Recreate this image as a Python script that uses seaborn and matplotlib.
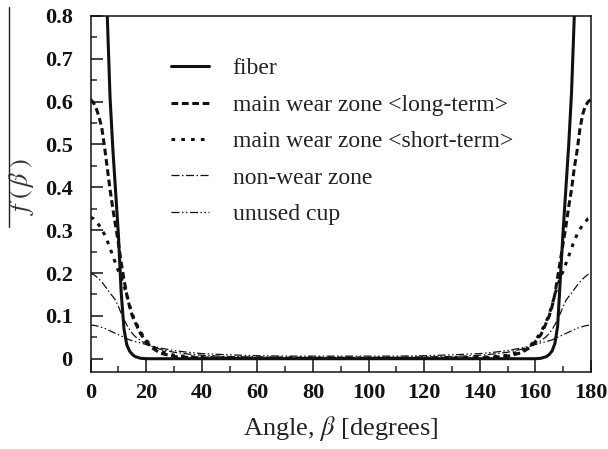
import matplotlib
matplotlib.use("Agg")
import matplotlib.pyplot as plt
from matplotlib.lines import Line2D
from matplotlib.ticker import MultipleLocator
import pandas as pd
import seaborn as sns

# Orientation angle grid (degrees)
angle = [0, 1, 2, 3, 4, 5, 6, 7, 8, 9, 10, 11, 12, 13, 14, 15, 16, 18, 20, 22, 25,
         30, 35, 40, 50, 60, 70, 80, 90, 100, 110, 120, 130, 140, 145, 150, 155,
         158, 160, 162, 164, 165, 166, 167, 168, 169, 170, 171, 172, 173, 174, 175,
         176, 177, 178, 179, 180]

fiber = [3.2, 2.6, 2.0, 1.6, 1.25, 0.98, 0.80, 0.61, 0.49, 0.39, 0.29, 0.155, 0.07,
         0.033, 0.018, 0.01, 0.005, 0.001, 0.0, 0.0, 0.0, 0.0, 0.0, 0.0, 0.0, 0.0,
         0.0, 0.0, 0.0, 0.0, 0.0, 0.0, 0.0, 0.0, 0.0, 0.0, 0.0, 0.0, 0.0, 0.001,
         0.005, 0.01, 0.018, 0.035, 0.075, 0.19, 0.30, 0.40, 0.50, 0.62, 0.80, 0.98,
         1.25, 1.6, 2.0, 2.6, 3.2]

long_term = [0.605, 0.598, 0.585, 0.565, 0.54, 0.495, 0.445, 0.395, 0.35, 0.31, 0.27,
             0.225, 0.185, 0.15, 0.122, 0.1, 0.085, 0.058, 0.04, 0.026, 0.013, 0.005,
             0.003, 0.002, 0.001, 0.001, 0.0008, 0.0006, 0.0005, 0.0006, 0.0008, 0.001,
             0.001, 0.002, 0.003, 0.006, 0.014, 0.026, 0.04, 0.056, 0.085, 0.1, 0.122,
             0.15, 0.19, 0.23, 0.27, 0.31, 0.355, 0.395, 0.445, 0.485, 0.535, 0.57,
             0.59, 0.6, 0.605]

short_term = [0.33, 0.327, 0.32, 0.312, 0.302, 0.29, 0.275, 0.258, 0.24, 0.222, 0.205,
              0.19, 0.17, 0.15, 0.125, 0.105, 0.088, 0.062, 0.043, 0.03, 0.018, 0.008,
              0.005, 0.003, 0.002, 0.0015, 0.0015, 0.0015, 0.0015, 0.0015, 0.0015,
              0.0015, 0.002, 0.003, 0.005, 0.008, 0.018, 0.03, 0.043, 0.062, 0.088,
              0.105, 0.125, 0.15, 0.17, 0.19, 0.205, 0.222, 0.24, 0.258, 0.275, 0.29,
              0.302, 0.312, 0.32, 0.327, 0.33]

non_wear = [0.198, 0.197, 0.192, 0.186, 0.179, 0.171, 0.162, 0.153, 0.145, 0.136, 0.122,
            0.106, 0.092, 0.079, 0.068, 0.059, 0.052, 0.042, 0.035, 0.029, 0.022, 0.015,
            0.011, 0.008, 0.005, 0.004, 0.003, 0.003, 0.003, 0.003, 0.003, 0.004, 0.005,
            0.008, 0.011, 0.015, 0.022, 0.029, 0.035, 0.042, 0.052, 0.059, 0.068, 0.079,
            0.092, 0.106, 0.122, 0.136, 0.145, 0.153, 0.162, 0.171, 0.179, 0.186, 0.192,
            0.197, 0.198]

unused_cup = [0.078, 0.078, 0.077, 0.075, 0.073, 0.071, 0.068, 0.065, 0.062, 0.059, 0.056,
              0.053, 0.05, 0.047, 0.044, 0.042, 0.04, 0.037, 0.033, 0.029, 0.025, 0.019,
              0.015, 0.012, 0.009, 0.007, 0.006, 0.006, 0.006, 0.006, 0.006, 0.007, 0.009,
              0.012, 0.015, 0.019, 0.025, 0.029, 0.033, 0.037, 0.04, 0.042, 0.044, 0.047,
              0.05, 0.053, 0.056, 0.059, 0.062, 0.065, 0.068, 0.071, 0.073, 0.075, 0.077,
              0.078, 0.078]

labels = ["fiber", "main wear zone <long-term>", "main wear zone <short-term>",
          "non-wear zone", "unused cup"]

sns.set_theme(style="ticks")
plt.rcParams["font.family"] = ["Liberation Serif", "DejaVu Serif"]
plt.rcParams["mathtext.fontset"] = "stix"

df = pd.DataFrame({"angle": angle, labels[0]: fiber, labels[1]: long_term,
                   labels[2]: short_term, labels[3]: non_wear, labels[4]: unused_cup})

styles = {
    labels[0]: dict(lw=2.2, linestyle="-"),
    labels[1]: dict(lw=2.2, linestyle=(0, (2.2, 1.2))),
    labels[2]: dict(lw=2.2, linestyle=(0, (1.2, 2.0))),
    labels[3]: dict(lw=0.9, linestyle=(0, (6.4, 2.0, 1.2, 2.0))),
    labels[4]: dict(lw=0.9, linestyle=(0, (6.4, 2.0, 1.2, 2.0, 1.2, 2.0))),
}

fig = plt.figure(figsize=(6.08, 4.49), dpi=100)
ax = fig.add_axes([0.149, 0.1715, 0.823, 0.793])

for name in labels:
    sns.lineplot(data=df, x="angle", y=name, ax=ax, color="#111111",
                 label=name, **styles[name])

ax.set_xlim(0, 180)
ax.set_ylim(-0.031, 0.8)
ax.xaxis.set_major_locator(MultipleLocator(20))
ax.xaxis.set_minor_locator(MultipleLocator(10))
ax.yaxis.set_major_locator(MultipleLocator(0.1))
ax.yaxis.set_minor_locator(MultipleLocator(0.05))
ax.yaxis.set_major_formatter(plt.FuncFormatter(lambda v, p: "0" if abs(v) < 1e-9 else f"{v:.1f}"))

ax.tick_params(axis="both", which="major", direction="in", length=8.4, width=1.1,
               labelsize=16, colors="#111111")
ax.tick_params(axis="x", which="major", pad=8)
ax.tick_params(axis="y", which="major", pad=13)
ax.tick_params(axis="both", which="minor", direction="in", length=4.3, width=1.1)
for lab in ax.get_xticklabels() + ax.get_yticklabels():
    lab.set_fontweight("bold")
for side in ["left", "right", "top", "bottom"]:
    ax.spines[side].set_linewidth(1.1)
    ax.spines[side].set_color("#111111")

ax.set_xlabel(r"Angle, $\beta$ [degrees]", fontsize=19, color="#222222", labelpad=8)
ax.set_ylabel(r"$f\;(\,\beta\;)$", fontsize=19, color="#333333")
ax.yaxis.set_label_coords(-0.11, 0.52)

leg = ax.legend(frameon=False, loc="upper left", bbox_to_anchor=(0.161, 0.882),
                fontsize=17, handlelength=1.6, handletextpad=1.0, labelspacing=0.63,
                borderpad=0, borderaxespad=0)
for t in leg.get_texts():
    t.set_color("#222222")

# Bar drawn beside the ordinate label
fig.add_artist(Line2D([9 / 608, 9 / 608], [1 - 7 / 449, 1 - 227 / 449],
                      transform=fig.transFigure, color="#222222", lw=1.0))

fig.savefig("out.png", dpi=100)
